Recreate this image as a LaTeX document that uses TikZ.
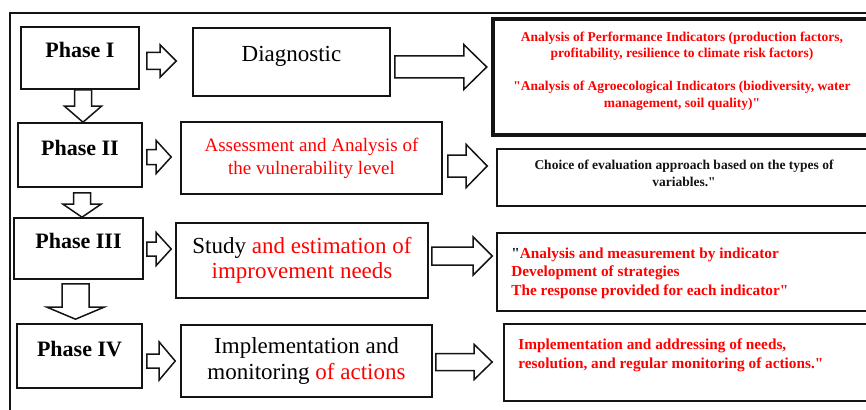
\documentclass[tikz,border=0pt]{standalone}
\usepackage{fontspec}
\setmainfont{Liberation Serif}[Ligatures=TeXOff]
\usepackage{tikz}
\usetikzlibrary{calc, positioning}
\definecolor{myred}{RGB}{255,0,0}
\definecolor{mydark}{RGB}{20,20,20}
\tikzset{
  phasebox/.style={rectangle, draw=mydark, line width=1.6pt, inner sep=0pt,
    text height=15pt, text depth=15pt, font=\fontsize{22}{26}\selectfont\bfseries},
  taskbox/.style={rectangle, draw=mydark, line width=1.6pt, align=center,
    inner sep=0pt, font=\fontsize{23}{25.5}\selectfont},
  outbox/.style={rectangle, draw=mydark, line width=1.6pt},
  outtext/.style={inner sep=0pt, text=myred},
  hollow/.style={draw=mydark, fill=white, line width=1.5pt, line join=miter},
  outerframe/.style={draw=mydark, line width=1.8pt}
}
% block arrow: tail, tip, shaft half width, head half width, head length
\newcommand{\blockarrow}[5]{%
  \coordinate (ba-h) at ($(#2)!#5pt!(#1)$);
  \draw[hollow] ($(#1)!#3pt!90:(#2)$) -- ($(ba-h)!#3pt!90:(#2)$)
    -- ($(ba-h)!#4pt!90:(#2)$) -- (#2) -- ($(ba-h)!#4pt!-90:(#2)$)
    -- ($(ba-h)!#3pt!-90:(#2)$) -- ($(#1)!#3pt!-90:(#2)$) -- cycle;
}

\begin{document}
\begin{tikzpicture}[x=1pt, y=-1pt]
  \useasboundingbox (0,0) rectangle (866,409);
  \clip (0,0) rectangle (866,409);

  % Outer frame
  \draw[outerframe] (10,430) -- (10,13) -- (890,13);

  % Phases
  \node[phasebox, minimum width=118, minimum height=62] (ph1) at (80,58) {Phase I};
  \node[phasebox, minimum width=124, minimum height=64] (ph2) at (80,155) {Phase II};
  \node[phasebox, minimum width=129, minimum height=61] (ph3) at (78.5,248.5) {Phase III};
  \node[phasebox, minimum width=125, minimum height=64] (ph4) at (79.5,356) {Phase IV};

  % Tasks
  \node[taskbox, minimum width=197, minimum height=68, text height=16pt, text depth=17pt]
    (m1) at (291.5,62) {Diagnostic};
  \node[taskbox, minimum width=261, minimum height=72, text=myred,
    font=\fontsize{19}{23}\selectfont] (m2) at (311.5,158)
    {Assessment and Analysis of\\the vulnerability level};
  \node[taskbox, minimum width=252, minimum height=75] (m3) at (302,260.5)
    {Study \textcolor{myred}{and estimation of}\\\textcolor{myred}{improvement needs}};
  \node[taskbox, minimum width=251, minimum height=72] (m4) at (306.5,361)
    {Implementation and\\monitoring \textcolor{myred}{of actions}};

  % Outcomes
  \node[outbox, line width=4.5pt, minimum width=386, minimum height=116] (r1) at (686,77) {};
  \node[outbox, minimum width=383, minimum height=57] (r2) at (688.5,177.5) {};
  \node[outbox, minimum width=383, minimum height=78] (r3) at (688.5,272) {};
  \node[outbox, minimum width=376, minimum height=77] (r4) at (692,362.5) {};

  \node[outtext, align=center, font=\fontsize{13.5}{16.5}\selectfont\bfseries]
    (r1t) at ($(r1.center)+(-4,-6)$)
    {Analysis of Performance Indicators (production factors,\\
     profitability, resilience to climate risk factors)\\[16.5pt]
     "Analysis of Agroecological Indicators (biodiversity, water\\
     management, soil quality)"};
  \node[outtext, align=center, text=mydark, font=\fontsize{13.5}{17}\selectfont\bfseries]
    (r2t) at ($(r2.center)+(-4.5,-4)$)
    {Choice of evaluation approach based on the types of\\variables."};
  \node[outtext, anchor=west, align=left, font=\fontsize{15.3}{18.5}\selectfont\bfseries]
    (r3t) at ($(r3.west)+(15,1)$)
    {\textcolor{mydark}{"}Analysis and measurement by indicator\\
     Development of strategies\\
     The response provided for each indicator"};
  \node[outtext, anchor=west, align=left, font=\fontsize{15.3}{19}\selectfont\bfseries]
    (r4t) at ($(r4.west)+(15,-7.5)$)
    {Implementation and addressing of needs,\\
     resolution, and regular monitoring of actions."};

  % Down arrows between phases
  \coordinate (d1s) at ($(ph1.south)+(3,0)$);
  \coordinate (d1e) at (d1s |- ph2.north);
  \blockarrow{d1s}{d1e}{8.5}{18.5}{16}
  \coordinate (d2s) at ($(ph2.south)+(2,5)$);
  \coordinate (d2e) at (d2s |- ph3.north);
  \blockarrow{d2s}{d2e}{8.5}{19}{13}
  \coordinate (d3s) at ($(ph3.south)+(-3,4)$);
  \coordinate (d3e) at ($(d3s |- ph4.north)+(0,-4)$);
  \blockarrow{d3s}{d3e}{13.5}{28.5}{12}

  % Phase -> task arrows
  \coordinate (a1s) at ($(ph1.east)+(7,3)$);
  \coordinate (a1e) at ($(a1s -| m1.west)+(-16,0)$);
  \blockarrow{a1s}{a1e}{8.5}{16}{16}
  \coordinate (a2s) at ($(ph2.east)+(4,2)$);
  \coordinate (a2e) at ($(a2s -| m2.west)+(-9,0)$);
  \blockarrow{a2s}{a2e}{7.5}{16.5}{15}
  \coordinate (a3s) at ($(ph3.east)+(3,0.5)$);
  \coordinate (a3e) at ($(a3s -| m3.west)+(-4,0)$);
  \blockarrow{a3s}{a3e}{7}{16.5}{15}
  \coordinate (a4s) at ($(ph4.east)+(4,5)$);
  \coordinate (a4e) at ($(a4s -| m4.west)+(-5,0)$);
  \blockarrow{a4s}{a4e}{7}{19}{16}

  % Task -> outcome arrows
  \coordinate (b1s) at ($(m1.east)+(4,5)$);
  \coordinate (b1e) at ($(b1s -| r1.west)+(-4,0)$);
  \blockarrow{b1s}{b1e}{11}{22.5}{23}
  \coordinate (b2s) at ($(m2.east)+(5,8)$);
  \coordinate (b2e) at ($(b2s -| r2.west)+(-9,0)$);
  \blockarrow{b2s}{b2e}{11}{21.5}{21}
  \coordinate (b3s) at ($(m3.east)+(3,-4.5)$);
  \coordinate (b3e) at ($(b3s -| r3.west)+(-4,0)$);
  \blockarrow{b3s}{b3e}{9}{19}{19}
  \coordinate (b4s) at ($(m4.east)+(3,1)$);
  \coordinate (b4e) at ($(b4s -| r4.west)+(-11,0)$);
  \blockarrow{b4s}{b4e}{8.5}{17.5}{18}
\end{tikzpicture}
\end{document}
